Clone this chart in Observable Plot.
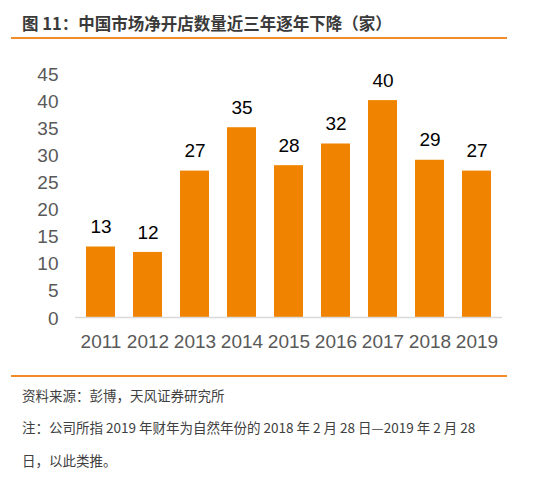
<!DOCTYPE html>
<html><head><meta charset="utf-8">
<script src="https://cdn.jsdelivr.net/npm/d3@7"></script>
<script src="https://cdn.jsdelivr.net/npm/@observablehq/plot@0.6"></script>
<style>
body{margin:0;background:#fff;width:554px;height:479px;overflow:hidden;font-family:"Noto Sans CJK SC","Liberation Sans",sans-serif;}
#title{position:absolute;left:11px;top:0;width:496px;height:37px;border-bottom:2px solid #F28C28;}
#title span{position:absolute;left:11px;top:13px;font-size:16.5px;font-weight:bold;color:#3a3a3a;line-height:20px;white-space:nowrap;}
#chart{position:absolute;left:0;top:40px;}
#foot{position:absolute;left:11px;top:375px;width:496px;border-top:2px solid #F28C28;}
#foot div{position:absolute;left:11px;font-size:13.5px;color:#404040;white-space:nowrap;line-height:18px;}
</style></head>
<body>
<div id="title"><span>图 11：中国市场净开店数量近三年逐年下降（家）</span></div>
<div id="chart"></div>
<div id="foot">
<div style="top:9px">资料来源：彭博，天风证券研究所</div>
<div style="top:41px">注：公司所指 2019 年财年为自然年份的 2018 年 2 月 28 日—2019 年 2 月 28</div>
<div style="top:74px">日，以此类推。</div>
</div>
<script>
const years = ["2011","2012","2013","2014","2015","2016","2017","2018","2019"];
const stores = [13,12,27,35,28,32,40,29,27];
const yTicks = [0,5,10,15,20,25,30,35,40,45];
const data = years.map((y,i)=>({year:y, value:stores[i]}));
const chart = Plot.plot({
  width:554, height:336,
  marginLeft:75, marginRight:52, marginTop:33, marginBottom:59,
  style:{fontFamily:"'Liberation Sans', Arial, sans-serif", background:"transparent"},
  x:{domain:years, paddingInner:0.38, paddingOuter:0.19, label:null, tickSize:0},
  y:{domain:[0,45], ticks:yTicks, label:null, tickSize:0},
  marks:[
    Plot.barY(data,{x:"year", y:"value", fill:"#F08300"}),
    Plot.ruleY([0],{stroke:"#D9D9D9", strokeWidth:1.5}),
    Plot.text(data,{x:"year", y:"value", text:d=>String(d.value), dy:-20, fontSize:19, fill:"#000"}),
    Plot.axisY({ticks:yTicks, tickSize:0, tickPadding:17, fontSize:19, color:"#595959", label:null, dy:1}),
    Plot.axisX({tickSize:0, tickPadding:17, fontSize:19, color:"#595959", label:null})
  ]
});
document.getElementById("chart").appendChild(chart);
</script>
</body></html>
